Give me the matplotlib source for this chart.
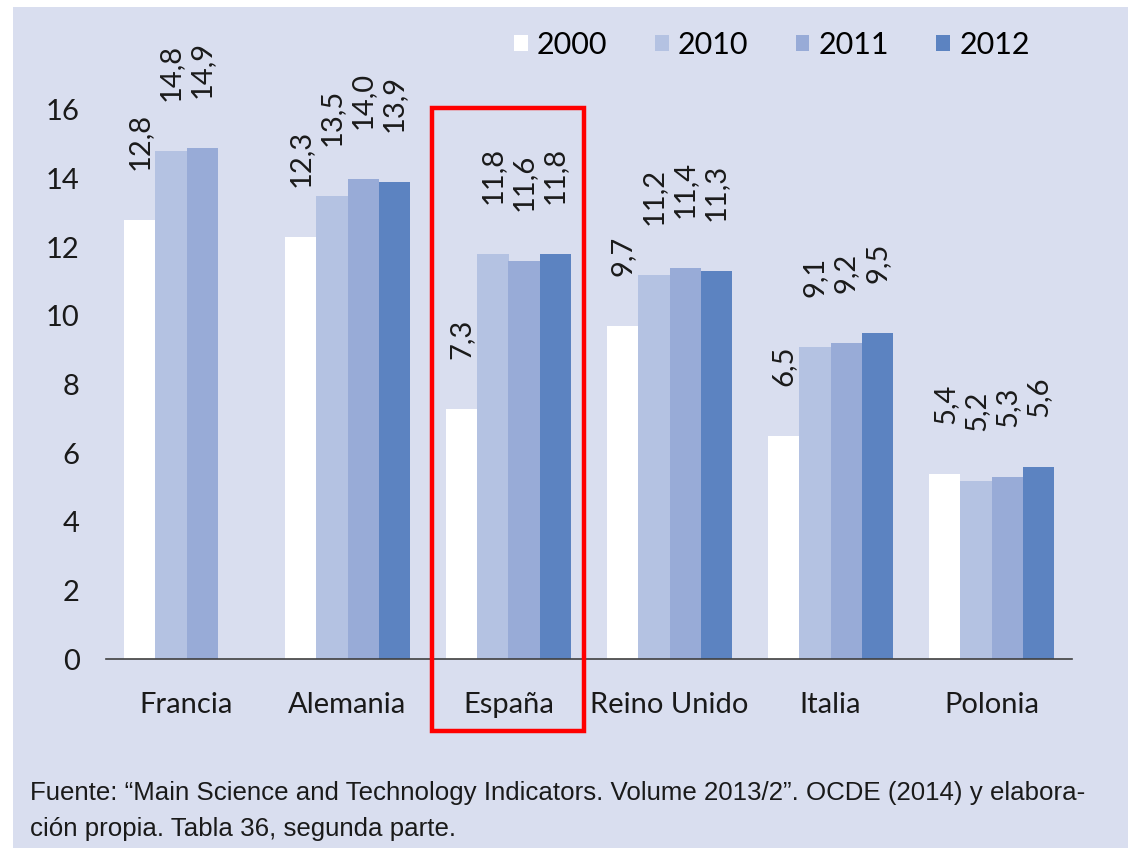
import matplotlib
matplotlib.use("Agg")
import matplotlib.pyplot as plt
from matplotlib.patches import Rectangle
import numpy as np

paises = ["Francia", "Alemania", "España", "Reino Unido", "Italia", "Polonia"]
anios = ["2000", "2010", "2011", "2012"]
v2000 = [12.8, 12.3, 7.3, 9.7, 6.5, 5.4]
v2010 = [14.8, 13.5, 11.8, 11.2, 9.1, 5.2]
v2011 = [14.9, 14.0, 11.6, 11.4, 9.2, 5.3]
v2012 = [np.nan, 13.9, 11.8, 11.3, 9.5, 5.6]
colores = ["#ffffff", "#b4c2e2", "#98abd7", "#5c83c1"]
fuente = ("Fuente: \u201cMain Science and Technology Indicators. Volume 2013/2\u201d. OCDE (2014) y elabora-\n"
          "ción propia. Tabla 36, segunda parte.")

fuente_fam = ["Lato", "DejaVu Sans"]
fuente_narrow = ["Liberation Sans Narrow", "Liberation Sans", "DejaVu Sans"]
plt.rcParams["font.family"] = fuente_fam

fig = plt.figure(figsize=(11.3, 8.48), dpi=100, facecolor="white")
# fondo lavanda
fig.patches.append(Rectangle((13/1130, 0), 1115/1130, 841/848, transform=fig.transFigure,
                             facecolor="#d9deef", edgecolor="none", zorder=-10))

ax = fig.add_axes([106/1130, 189/848, 966/1130, 549/848])
ax.set_facecolor("none")

x = np.arange(len(paises))
w = 0.193
series = [v2000, v2010, v2011, v2012]
for i, (vals, c, lab) in enumerate(zip(series, colores, anios)):
    pos = x + (i - 1.5) * w
    ax.bar(pos, vals, width=w, color=c, label=lab, edgecolor="none")
    for px, v in zip(pos, vals):
        if np.isnan(v):
            continue
        ax.annotate(f"{v:.1f}".replace(".", ","), (px, v), xytext=(0, 36),
                    textcoords="offset points", rotation=90, ha="center", va="bottom",
                    fontsize=21, color="#1a1a1a", annotation_clip=False)

ax.set_xlim(-0.5, 5.5)
ax.set_ylim(0, 16)
ax.set_yticks(range(0, 17, 2))
ax.set_xticks(x)
ax.set_xticklabels(paises)
ax.tick_params(axis="both", length=0, labelsize=21, colors="#1a1a1a")
ax.tick_params(axis="x", pad=24)
ax.tick_params(axis="y", pad=19)
for s in ["top", "right", "left"]:
    ax.spines[s].set_visible(False)
ax.spines["bottom"].set_color("#404040")
ax.spines["bottom"].set_linewidth(1.2)

fig.legend(loc="center", bbox_to_anchor=(772/1130, 1 - 45/848), ncol=4, frameon=False,
           fontsize=22, handlelength=0.45, handleheight=0.45, handletextpad=0.3,
           columnspacing=1.55)

# recuadro rojo sobre España
fig.patches.append(Rectangle((432/1130, 117/848), 152/1130, 623/848, transform=fig.transFigure,
                             facecolor="none", edgecolor="#ff0000", linewidth=3.2, zorder=10))

txt = fig.text(30/1130, 1 - 781/848, fuente, ha="left", va="top", fontsize=20,
               family=fuente_narrow, color="#1a1a1a", linespacing=1.65)
fig.canvas.draw()
bb = txt.get_window_extent()
txt.set_fontsize(20 * 1055 / bb.width)

fig.savefig("out.png", dpi=100, facecolor=fig.get_facecolor())
